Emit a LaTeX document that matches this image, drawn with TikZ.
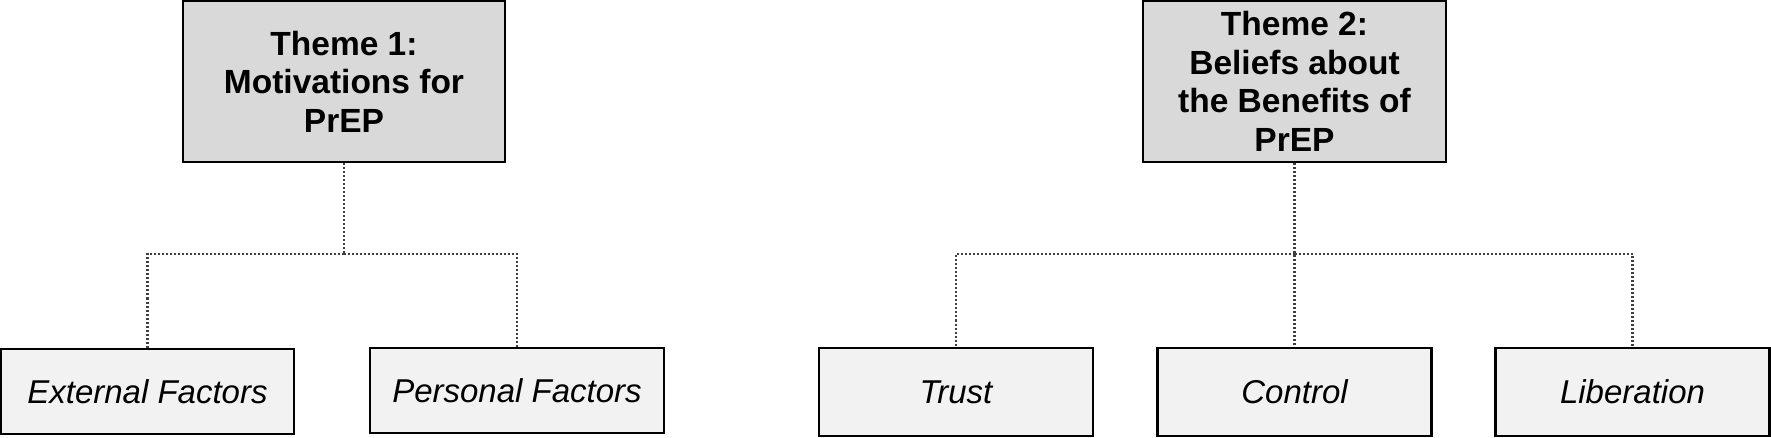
\documentclass[tikz,border=0pt]{standalone}
\usepackage{fontspec}
\setmainfont{Liberation Sans}
\usepackage{xcolor}
\usepackage{tikz}

\definecolor{themegray}{HTML}{D9D9D9}
\definecolor{subgray}{HTML}{F2F2F2}

\begin{document}
\begin{tikzpicture}[x=1pt, y=-1pt,
    themebox/.style={draw=black, line width=2.5pt, fill=themegray, inner sep=0pt,
        align=center, font=\fontsize{33.5}{38.5}\selectfont\bfseries},
    subbox/.style={draw=black, line width=2.5pt, fill=subgray, inner sep=0pt,
        font=\fontsize{33}{38}\selectfont\itshape},
    link/.style={draw=black!75, line width=2.2pt, dash pattern=on 2pt off 2pt}]
    \useasboundingbox (0,0) rectangle (1771,438);

    % --- Theme 1 ---
    \node[themebox, minimum width=322pt, minimum height=161pt] (t1) at (344,81.5)
        {Theme 1:\\Motivations for\\PrEP};
    \node[subbox, minimum width=293pt, minimum height=85pt] (ext) at (147.5,391.5) {External Factors};
    \node[subbox, minimum width=294pt, minimum height=85pt] (pers) at (517,390.5) {Personal Factors};
    \coordinate (j1) at (344,254);
    \draw[link] (t1.south) -- (j1);
    \draw[link] (j1) -| (ext.north);
    \draw[link] (j1) -| (pers.north);

    % --- Theme 2 ---
    \node[themebox, minimum width=303pt, minimum height=161pt] (t2) at (1294.5,81.5)
        {Theme 2:\\Beliefs about\\the Benefits of\\PrEP};
    \node[subbox, minimum width=274pt, minimum height=88pt] (trust) at (956,392) {Trust};
    \node[subbox, minimum width=274pt, minimum height=88pt] (ctrl) at (1294.5,392) {Control};
    \node[subbox, minimum width=274pt, minimum height=88pt] (lib) at (1632.5,392) {Liberation};
    \coordinate (j2) at (1294.5,254);
    \draw[link] (t2.south) -- (ctrl.north);
    \draw[link] (j2) -| (trust.north);
    \draw[link] (j2) -| (lib.north);
\end{tikzpicture}
\end{document}
